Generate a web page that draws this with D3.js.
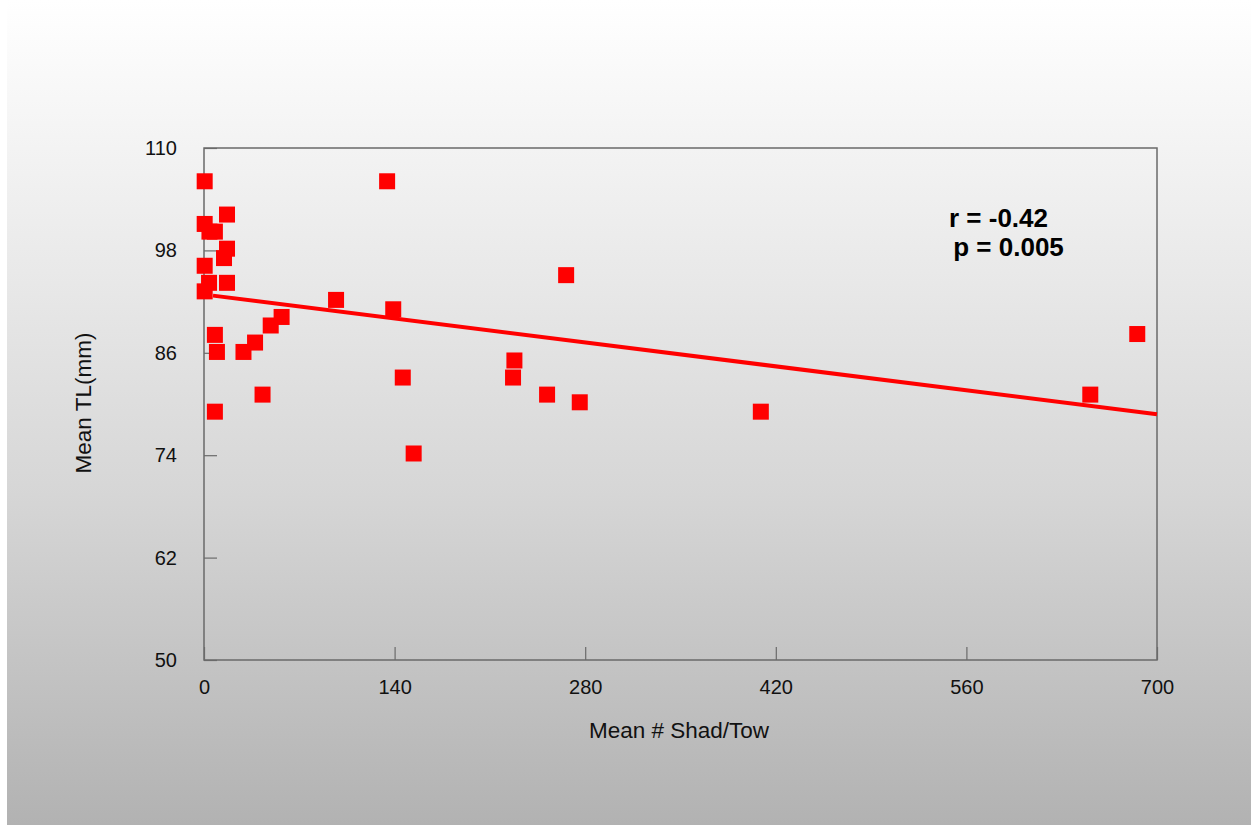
<!DOCTYPE html>
<html>
<head>
<meta charset="utf-8">
<script src="https://cdn.jsdelivr.net/npm/d3@7"></script>
<style>
  html, body { margin: 0; padding: 0; background: #ffffff; }
  svg { display: block; }
</style>
</head>
<body>
<svg id="chart" width="1251" height="825"></svg>
<script>
// ---- data ----
const xValues = [0.5, 134.5, 0.5, 16.9, 4, 8, 16.9, 14.7, 0.5, 0.5, 3.7, 16.9, 266, 97, 139, 57, 49, 8, 9.5, 29, 37.5, 43, 8, 146, 154, 228, 227, 252, 276, 409, 651, 685.5];
const yValues = [106.1, 106.1, 101.1, 102.2, 100.2, 100.2, 98.2, 97.1, 96.2, 93.2, 94.2, 94.2, 95.1, 92.2, 91.1, 90.2, 89.2, 88.1, 86.1, 86.1, 87.2, 81.1, 79.1, 83.1, 74.2, 85.1, 83.1, 81.1, 80.2, 79.1, 81.1, 88.2];
const trendX = [6.6, 700];
const trendY = [92.7, 78.8];
const xTicks = [0, 140, 280, 420, 560, 700];
const yTicks = [50, 62, 74, 86, 98, 110];
const xTitle = "Mean # Shad/Tow";
const yTitle = "Mean TL(mm)";
const statLines = ["r = -0.42", " p = 0.005"];

// ---- layout ----
const W = 1251, H = 825;
const plot = { left: 204, right: 1157, top: 148, bottom: 660 };
const svg = d3.select("#chart");

const defs = svg.append("defs");
const grad = defs.append("linearGradient").attr("id", "bg").attr("x1", 0).attr("y1", 0).attr("x2", 0).attr("y2", 1);
[[0, "#ffffff"], [0.06, "#fbfbfb"], [0.3, "#ebebeb"], [0.6, "#d6d6d6"], [1, "#b2b2b2"]].forEach(([o, c]) =>
  grad.append("stop").attr("offset", o).attr("stop-color", c));

svg.append("rect").attr("x", 7).attr("y", 0).attr("width", W - 7).attr("height", H).attr("fill", "url(#bg)");

const x = d3.scaleLinear().domain([0, 700]).range([plot.left, plot.right]);
const y = d3.scaleLinear().domain([50, 110]).range([plot.bottom, plot.top]);

// frame
svg.append("rect")
  .attr("x", plot.left).attr("y", plot.top)
  .attr("width", plot.right - plot.left).attr("height", plot.bottom - plot.top)
  .attr("fill", "none").attr("stroke", "#6a6a6a").attr("stroke-width", 1.5);

const fontFam = "'Liberation Sans', Arial, sans-serif";

// axes
const xAxis = d3.axisBottom(x).tickValues(xTicks).tickSize(-13).tickPadding(20).tickFormat(d3.format("d"));
const gx = svg.append("g").attr("transform", `translate(0,${plot.bottom})`).call(xAxis);
gx.select(".domain").remove();
gx.selectAll(".tick line").attr("stroke", "#6a6a6a").attr("stroke-width", 1.2);
gx.selectAll(".tick text").attr("font-family", fontFam).attr("font-size", 20).attr("fill", "#111")
  .attr("dy", "0.71em");

const yAxis = d3.axisLeft(y).tickValues(yTicks).tickSize(-13).tickPadding(27).tickFormat(d3.format("d"));
const gy = svg.append("g").attr("transform", `translate(${plot.left},0)`).call(yAxis);
gy.select(".domain").remove();
gy.selectAll(".tick line").attr("stroke", "#6a6a6a").attr("stroke-width", 1.2);
gy.selectAll(".tick text").attr("font-family", fontFam).attr("font-size", 20).attr("fill", "#111");

// axis titles
svg.append("text").attr("x", 679).attr("y", 738).attr("text-anchor", "middle")
  .attr("font-family", fontFam).attr("font-size", 22.5).attr("fill", "#111").text(xTitle);
svg.append("text").attr("transform", `translate(91,403) rotate(-90)`).attr("text-anchor", "middle")
  .attr("font-family", fontFam).attr("font-size", 22.5).attr("fill", "#111").text(yTitle);

// trend line
const line = d3.line().x(d => x(d[0])).y(d => y(d[1]));
svg.append("path").datum(d3.zip(trendX, trendY)).attr("d", line)
  .attr("fill", "none").attr("stroke", "#ff0000").attr("stroke-width", 4);

// points
const s = 16;
svg.append("g").selectAll("rect").data(d3.zip(xValues, yValues)).join("rect")
  .attr("x", d => x(d[0]) - s / 2).attr("y", d => y(d[1]) - s / 2)
  .attr("width", s).attr("height", s).attr("fill", "#ff0000");

// stats annotation
svg.append("text").attr("x", 949).attr("y", 227).attr("font-family", fontFam).attr("font-weight", "bold")
  .attr("font-size", 26).attr("fill", "#000").style("white-space", "pre").text(statLines[0]);
svg.append("text").attr("x", 946).attr("y", 256).attr("font-family", fontFam).attr("font-weight", "bold")
  .attr("font-size", 26).attr("fill", "#000").style("white-space", "pre").text(statLines[1]);
</script>
</body>
</html>
